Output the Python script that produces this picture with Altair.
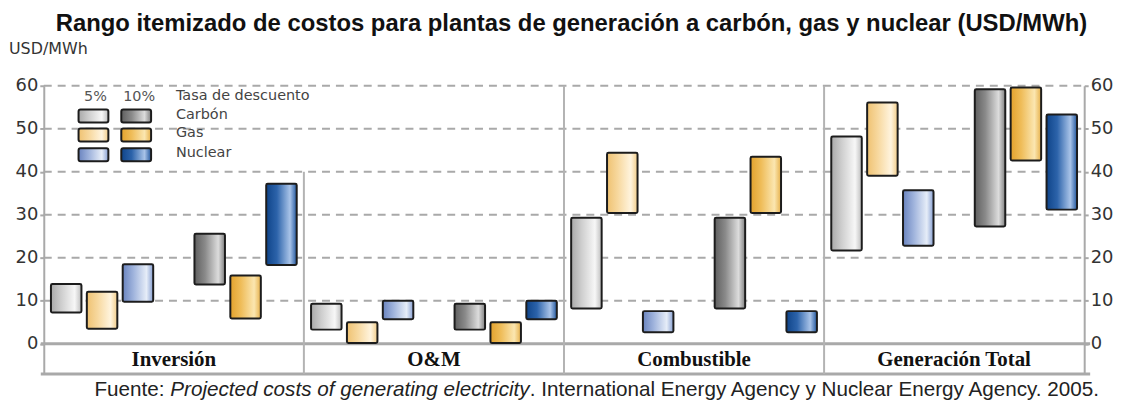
import altair as alt
import pandas as pd

# ---------------- data ----------------
categories = ["Inversión", "O&M", "Combustible", "Generación Total"]
series = ["Carbón 5%", "Gas 5%", "Nuclear 5%", "Carbón 10%", "Gas 10%", "Nuclear 10%"]
slot_domain = ["Carbón 5%", "Gas 5%", "Nuclear 5%", " ", "Carbón 10%", "Gas 10%", "Nuclear 10%"]

# low / high per category (Inversión, O&M, Combustible, Generación Total)
carbon5_low = [7.3, 3.3, 8.2, 21.7]
carbon5_high = [13.9, 9.3, 29.3, 48.2]
gas5_low = [3.5, 0.2, 30.4, 39.1]
gas5_high = [12.1, 5.0, 44.4, 56.1]
nuclear5_low = [9.8, 5.7, 2.7, 22.8]
nuclear5_high = [18.5, 10.0, 7.6, 35.7]
carbon10_low = [13.8, 3.3, 8.2, 27.3]
carbon10_high = [25.6, 9.3, 29.3, 59.2]
gas10_low = [5.9, 0.2, 30.4, 42.6]
gas10_high = [15.9, 5.0, 43.5, 59.6]
nuclear10_low = [18.3, 5.7, 2.7, 31.2]
nuclear10_high = [37.2, 10.0, 7.6, 53.3]

y_ticks = [0, 10, 20, 30, 40, 50, 60]
grid_values = [10, 20, 30, 40, 50, 60]
sep_categories = ["O&M", "Combustible", "Generación Total"]
sep_top = [40, 60, 60]

lows = [carbon5_low, gas5_low, nuclear5_low, carbon10_low, gas10_low, nuclear10_low]
highs = [carbon5_high, gas5_high, nuclear5_high, carbon10_high, gas10_high, nuclear10_high]

rows = []
for s, lo, hi in zip(series, lows, highs):
    for c, a, b in zip(categories, lo, hi):
        rows.append({"categoria": c, "serie": s, "low": a, "high": b})
df = pd.DataFrame(rows)

# ---------------- style ----------------
PADL, PADT, PADR, PADB = 36, 77, 32, 25
W, H = 1047, 290
YMIN, YMAX = -7, 60
GRID = "#a9a9a9"
AXIS_FONT = "DejaVu Sans"


def grad(stops):
    return alt.Gradient(
        gradient="linear", x1=0, x2=1, y1=0, y2=0,
        stops=[alt.GradientStop(color=c, offset=o) for o, c in stops],
    )


gradients = {
    "Carbón 5%": grad([(0, "#a9a9a9"), (0.35, "#cfcfcf"), (0.78, "#f7f7f7"), (1, "#bdbdbd")]),
    "Carbón 10%": grad([(0, "#5f5f5f"), (0.35, "#8a8a8a"), (0.78, "#dcdcdc"), (1, "#808080")]),
    "Gas 5%": grad([(0, "#efc272"), (0.35, "#f7d89e"), (0.78, "#fff4de"), (1, "#f1cc88")]),
    "Gas 10%": grad([(0, "#e3a22c"), (0.35, "#efbd5a"), (0.78, "#fbe6b0"), (1, "#e6b04a")]),
    "Nuclear 5%": grad([(0, "#6a84bf"), (0.35, "#9fb3dc"), (0.78, "#e6edf8"), (1, "#869fd2")]),
    "Nuclear 10%": grad([(0, "#0f4489"), (0.35, "#2c63aa"), (0.78, "#a8c3e8"), (1, "#22579e")]),
}

yscale = alt.Scale(domain=[YMIN, YMAX], nice=False, zero=False)
xscale = alt.Scale(domain=categories, paddingInner=0, paddingOuter=0)


def yaxis(orient):
    return alt.Axis(
        orient=orient, values=y_ticks, title=None, grid=False,
        labelFont=AXIS_FONT, labelFontSize=18, labelColor="#333333",
        domainColor=GRID, domainWidth=2, tickColor=GRID, tickWidth=2,
        tickSize=4, labelPadding=2,
    )


one = pd.DataFrame({"k": [0]})

# gridlines
grid_df = pd.DataFrame({"v": grid_values})
grid = alt.Chart(grid_df).mark_rule(color=GRID, strokeWidth=2, strokeDash=[8, 6]).encode(
    y=alt.Y("v:Q", scale=yscale, axis=yaxis("left")),
    x=alt.value(0), x2=alt.value(W),
)

# solid baseline at 0 and bottom line of label band
base_df = pd.DataFrame({"v": [0, YMIN]})
baselines = alt.Chart(base_df).mark_rule(color=GRID, strokeWidth=3).encode(
    y=alt.Y("v:Q", scale=yscale, axis=yaxis("right")),
    x=alt.value(-3), x2=alt.value(W + 6),
)

# panel separators
sep_df = pd.DataFrame({"categoria": sep_categories, "top": sep_top, "bottom": [YMIN] * 3})
seps = alt.Chart(sep_df).mark_rule(color="#b3b3b3", strokeWidth=2).encode(
    x=alt.X("categoria:N", scale=xscale, axis=None, bandPosition=0),
    y=alt.Y("top:Q", scale=yscale, axis=None),
    y2="bottom:Q",
)

# bars
bar_layers = []
for s in series:
    bar_layers.append(
        alt.Chart(df).transform_filter(alt.datum.serie == s).mark_bar(
            fill=gradients[s], stroke="#1c1c1c", strokeWidth=2, cornerRadius=1.5
        ).encode(
            x=alt.X("categoria:N", scale=xscale, axis=None),
            xOffset=alt.XOffset("serie:N", scale=alt.Scale(domain=slot_domain, paddingInner=0.15, paddingOuter=0.2)),
            y=alt.Y("low:Q", scale=yscale, axis=None),
            y2="high:Q",
        )
    )

# category labels in the band below zero
cat_df = pd.DataFrame({"categoria": categories})
cat_labels = alt.Chart(cat_df).mark_text(
    font="Liberation Serif", fontWeight="bold", fontSize=21, color="#111111", baseline="middle"
).encode(
    x=alt.X("categoria:N", scale=xscale, axis=None),
    y=alt.value(276),
    text="categoria:N",
)

# legend (drawn inside plot, top-left)
legend_layers = []
swatch_x = {"5%": (35, 65), "10%": (78, 108)}
swatch_rows = {"Carbón": (24, 37), "Gas": (43, 56), "Nuclear": (63, 76)}
for fuel, (y1, y2) in swatch_rows.items():
    for rate, (x1, x2) in swatch_x.items():
        legend_layers.append(
            alt.Chart(one).mark_rect(
                fill=gradients[f"{fuel} {rate}"], stroke="#1c1c1c", strokeWidth=2, cornerRadius=2
            ).encode(x=alt.value(x1), x2=alt.value(x2), y=alt.value(y1), y2=alt.value(y2))
        )


def txt(text, x, y, size, align="left", font=AXIS_FONT, weight="normal", style="normal", color="#444444"):
    return alt.Chart(one).mark_text(
        text=text, align=align, baseline="middle", font=font, fontSize=size,
        fontWeight=weight, fontStyle=style, color=color,
    ).encode(x=alt.value(x), y=alt.value(y))


legend_layers += [
    txt("5%", 52, 11, 14.5, align="center", color="#555555"),
    txt("10%", 96, 11, 14.5, align="center", color="#555555"),
    txt("Tasa de descuento", 133, 10, 14.5),
    txt("Carbón", 133, 29, 14.5),
    txt("Gas", 133, 48, 14.5),
    txt("Nuclear", 133, 68, 14.5),
]

# titles and footer
FS = 20.8
fx1 = 95 - 8 - PADL
fx2 = fx1 + 3.669 * FS
fx3 = fx2 + 17.396 * FS
texts = [
    txt("Rango itemizado de costos para plantas de generación a carbón, gas y nuclear (USD/MWh)",
        575 - 8 - PADL, -62, 24, align="center", font="Liberation Sans", weight="bold", color="#111111"),
    txt("USD/MWh", -PADL + 1, -37, 16, color="#333333"),
    txt("Fuente:", fx1, 306, FS, font="Liberation Sans", color="#222222"),
    txt("Projected costs of generating electricity", fx2, 306, FS, font="Liberation Sans", style="italic", color="#222222"),
    txt(". International Energy Agency y Nuclear Energy Agency. 2005.", fx3, 306, FS, font="Liberation Sans", color="#222222"),
]

chart = alt.layer(
    grid, baselines, seps, *bar_layers, cat_labels, *legend_layers, *texts
).resolve_axis(y="independent").resolve_scale(y="shared").properties(
    width=W, height=H,
    autosize=alt.AutoSizeParams(type="none"),
    padding={"left": PADL, "top": PADT, "right": PADR, "bottom": PADB},
    background="white",
).configure_view(stroke=None)

chart.save("out.html", embed_options={"renderer": "svg", "actions": False})
